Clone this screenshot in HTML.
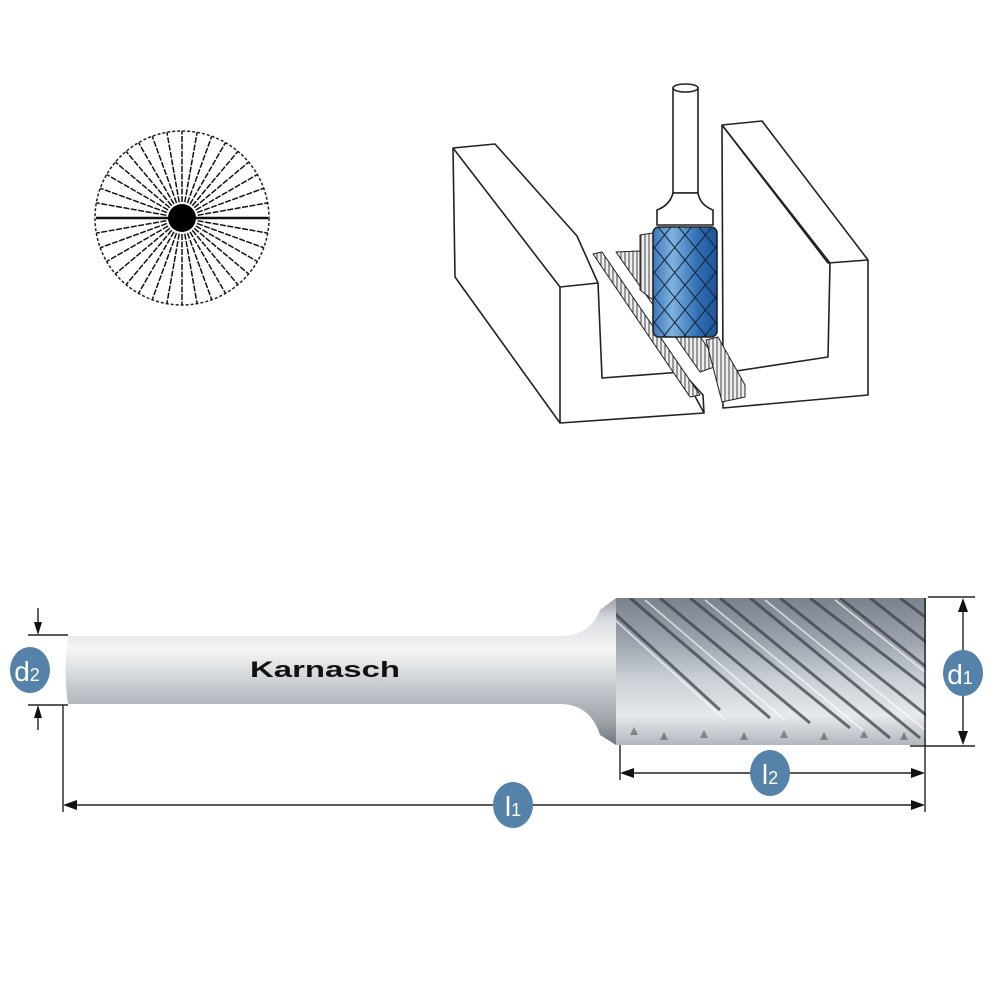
<!DOCTYPE html>
<html><head><meta charset="utf-8"><style>
html,body{margin:0;padding:0;background:#fff}
svg{display:block}
</style></head><body>
<svg width="1000" height="1000" viewBox="0 0 1000 1000" xmlns="http://www.w3.org/2000/svg">
<defs>
<linearGradient id="shank" x1="0" y1="0" x2="0" y2="1">
<stop offset="0" stop-color="#9a9fa6"/><stop offset="0.15" stop-color="#d9dce0"/><stop offset="0.35" stop-color="#f4f5f6"/><stop offset="0.6" stop-color="#c7cbd0"/><stop offset="0.85" stop-color="#9ca1a8"/><stop offset="1" stop-color="#6f747c"/>
</linearGradient>
<linearGradient id="head" x1="0" y1="0" x2="0" y2="1">
<stop offset="0" stop-color="#7a828c"/><stop offset="0.3" stop-color="#9ca4ad"/><stop offset="0.55" stop-color="#c9cfd5"/><stop offset="0.8" stop-color="#e6e9ec"/><stop offset="1" stop-color="#b0b7be"/>
</linearGradient>
<linearGradient id="blue" x1="0" y1="0" x2="1" y2="0">
<stop offset="0" stop-color="#3b78b8"/><stop offset="0.3" stop-color="#7fb2e0"/><stop offset="0.7" stop-color="#2f6fb3"/><stop offset="1" stop-color="#1d5497"/>
</linearGradient>
<pattern id="hatch" width="4" height="4" patternUnits="userSpaceOnUse"><rect width="4" height="4" fill="#eee"/><line x1="1" y1="0" x2="1" y2="4" stroke="#444" stroke-width="1"/></pattern>
<clipPath id="hc"><rect x="616" y="598" width="310" height="147"/></clipPath>
<clipPath id="bc"><rect x="653" y="227" width="64" height="110"/></clipPath>
<g id="sp"><line x1="0" y1="-16" x2="0" y2="-87" stroke="#111" stroke-width="1.5" stroke-dasharray="6 1.5"/><line x1="0" y1="16" x2="0" y2="87" stroke="#111" stroke-width="1.5" stroke-dasharray="6 1.5"/></g>
</defs>

<!-- rosette -->
<g transform="translate(182,218)">
<circle r="87" fill="none" stroke="#222" stroke-width="1.5" stroke-dasharray="3 2"/>
<use href="#sp" transform="rotate(0)"/><use href="#sp" transform="rotate(10)"/><use href="#sp" transform="rotate(20)"/><use href="#sp" transform="rotate(30)"/><use href="#sp" transform="rotate(40)"/><use href="#sp" transform="rotate(50)"/><use href="#sp" transform="rotate(60)"/><use href="#sp" transform="rotate(70)"/><use href="#sp" transform="rotate(80)"/><use href="#sp" transform="rotate(100)"/><use href="#sp" transform="rotate(110)"/><use href="#sp" transform="rotate(120)"/><use href="#sp" transform="rotate(130)"/><use href="#sp" transform="rotate(140)"/><use href="#sp" transform="rotate(150)"/><use href="#sp" transform="rotate(160)"/><use href="#sp" transform="rotate(170)"/>
<line x1="-86" y1="0" x2="86" y2="0" stroke="#111" stroke-width="2.5"/>
<circle r="14" fill="#000"/>
</g>

<!-- U-channel drawing -->
<g fill="#fff" stroke="#222" stroke-width="1.6" stroke-linejoin="round">
<polygon points="453,148 495,144 577,236 598,283 602,378 682,372 704,413 560,423 455,277"/>
<polyline fill="none" points="453,148 560,287 560,423"/>
<polyline fill="none" points="560,287 598,283"/>
<polyline fill="none" points="682,372 703,395 704,413"/>
<polygon points="722,125 762,121 868,260 868,395 723,408 723,373 828,357 830,263"/>
<polyline fill="none" points="722,125 828,263 868,260"/>
<polyline fill="none" points="722,125 723,373"/>
<polygon points="593,254 602,252 700,395 690,397" fill="url(#hatch)" stroke-width="1"/>
<polygon points="616,252 640,251 720,365 700,372" fill="url(#hatch)" stroke-width="1"/>
<polygon points="640,235 653,233 653,300 640,290" fill="url(#hatch)" stroke-width="1"/>
<polygon points="706,340 718,337 745,385 745,397 722,402" fill="url(#hatch)" stroke-width="1"/>
</g>
<g stroke="#222" stroke-width="1.6">
<rect x="673" y="88" width="25" height="105" fill="#fff"/>
<ellipse cx="685.5" cy="88" rx="12.5" ry="4" fill="#fff"/>
<path d="M673,193 Q670,205 657,210 L657,225 L713,225 L713,210 Q700,205 698,193 Z" fill="#fff"/>
<rect x="653" y="227" width="64" height="110" rx="6" fill="url(#blue)"/>
<g clip-path="url(#bc)" stroke="#123" stroke-width="1" fill="none">
<path d="M640,230 l90,110 M640,255 l90,110 M640,205 l90,110 M640,280 l90,110 M640,180 l90,110 M640,305 l90,110 M640,155 l90,110"/>
<path d="M730,230 l-90,110 M730,255 l-90,110 M730,205 l-90,110 M730,280 l-90,110 M730,180 l-90,110 M730,305 l-90,110 M730,155 l-90,110"/>
</g>
</g>

<!-- bottom bur -->
<path d="M68,636 L560,636 Q590,636 600,610 L616,598 L616,745 L600,735 Q590,704 560,704 L68,704 Q63,670 68,636 Z" fill="url(#shank)"/>
<rect x="616" y="598" width="310" height="147" fill="url(#head)"/>
<g clip-path="url(#hc)" stroke="#3c424a" stroke-width="3" fill="none" opacity="0.75">
<path d="M600,600 l120,110 M630,598 l140,120 M660,598 l150,125 M690,598 l160,130 M720,598 l170,140 M750,598 l170,140 M780,598 l150,120 M810,598 l130,100 M840,598 l100,80 M870,598 l70,55 M900,598 l40,30"/>
</g>
<g clip-path="url(#hc)" stroke="#fff" stroke-width="1.5" fill="none" opacity="0.7">
<path d="M615,620 l110,100 M645,600 l140,120 M705,600 l160,132 M765,600 l160,130 M835,600 l100,80"/>
</g>
<g clip-path="url(#hc)" fill="#555" opacity="0.6">
<path d="M630,735 l4,-8 l4,8z M660,740 l4,-8 l4,8z M700,738 l4,-8 l4,8z M740,740 l4,-8 l4,8z M780,738 l4,-8 l4,8z M820,740 l4,-8 l4,8z M860,738 l4,-8 l4,8z M900,740 l4,-8 l4,8z"/>
</g>
<text x="325" y="677" font-family="Liberation Sans, sans-serif" font-weight="bold" font-size="22" fill="#111" text-anchor="middle" textLength="150" lengthAdjust="spacingAndGlyphs">Karnasch</text>

<!-- dimensions -->
<g stroke="#222" stroke-width="1.4" fill="none">
<line x1="28" y1="635" x2="68" y2="635"/><line x1="28" y1="705" x2="68" y2="705"/>
<line x1="38" y1="608" x2="38" y2="630"/><line x1="38" y1="710" x2="38" y2="730"/>
<line x1="63" y1="705" x2="63" y2="812"/>
<line x1="925" y1="598" x2="925" y2="812"/>
<line x1="620" y1="745" x2="620" y2="780"/>
<line x1="928" y1="597" x2="975" y2="597"/><line x1="910" y1="746" x2="975" y2="746"/>
<line x1="963" y1="605" x2="963" y2="738"/>
<line x1="628" y1="773" x2="917" y2="773"/>
<line x1="71" y1="805" x2="917" y2="805"/>
</g>
<g fill="#111">
<polygon points="38,635 34,622 42,622"/><polygon points="38,705 34,718 42,718"/>
<polygon points="963,598 958,612 968,612"/><polygon points="963,745 958,731 968,731"/>
<polygon points="620,773 634,768 634,778"/><polygon points="925,773 911,768 911,778"/>
<polygon points="63,805 77,800 77,810"/><polygon points="925,805 911,800 911,810"/>
</g>
<g fill="#5582a8">
<ellipse cx="30" cy="670" rx="20" ry="23"/>
<ellipse cx="963" cy="673" rx="20" ry="23"/>
<ellipse cx="770" cy="773" rx="20" ry="23"/>
<ellipse cx="513" cy="805" rx="20" ry="23"/>
</g>
<g fill="#fff" font-family="Liberation Sans, sans-serif" text-anchor="middle">
<text x="27" y="681" font-size="28">d<tspan font-size="18">2</tspan></text>
<text x="960" y="684" font-size="28">d<tspan font-size="18">1</tspan></text>
<text x="770" y="784" font-size="28">l<tspan font-size="18">2</tspan></text>
<text x="513" y="816" font-size="28">l<tspan font-size="18">1</tspan></text>
</g>
</svg>
</body></html>
